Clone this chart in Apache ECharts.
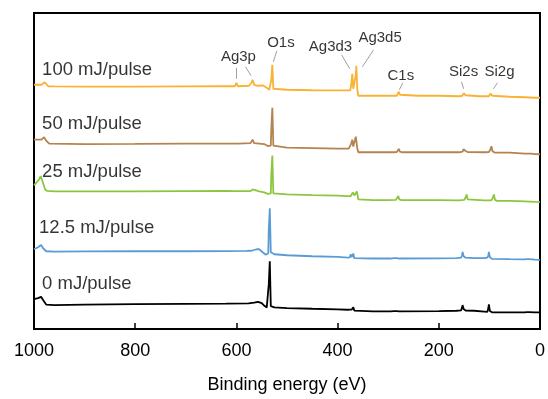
<!DOCTYPE html>
<html>
<head>
<meta charset="utf-8">
<script src="https://cdn.jsdelivr.net/npm/echarts@6/dist/echarts.min.js"></script>
<style>html,body{margin:0;padding:0;background:#fff}#c{width:548px;height:399px}</style>
</head>
<body>
<div id="c"></div>
<script>
// XPS survey spectra: [binding energy (eV), intensity (a.u., stacked offset)]
const s100 = [[1000,245],[985,245],[980,247.5],[976,246],[972,243.5],[960,243.3],[900,243.2],[800,243.2],[700,243.3],[620,243.5],[603,243.5],[600,247],[597,243.5],[575,244],[570,247],[568,250],[565,245],[558,244],[548,244.5],[540,242],[535,240],[532,240.5],[531,250],[529,265],[527,241],[525,240],[500,240],[450,239.5],[400,239.3],[380,239.3],[375,239.5],[373,245],[371,256],[369,241],[366,241],[364,255],[363,264],[361,240],[359,234],[340,234],[300,234],[283,234],[281,236],[279,238],[277,235],[274,234],[240,234],[200,234],[160,233.5],[153,234],[151,236.5],[149,238],[147,234.5],[144,233.5],[120,233.5],[101,233.5],[98,236],[96,238],[94,234],[91,233],[60,233],[30,232.5],[10,232],[0,232]];
const s50 = [[1000,190],[985,190],[980,192.5],[976,189],[970,186],[900,185.5],[800,185.7],[700,186],[620,186],[602,186],[599,188],[596,186],[572,186.5],[568,190],[565,186.5],[555,186],[545,185.5],[538,183.5],[535,183],[532,184],[531,200],[529,222],[527,184],[525,182.3],[500,182],[450,181.5],[400,181],[378,181],[375,181.5],[373,186],[371,190],[369,183],[366,184],[364,193],[363,195],[361,181],[359,177.3],[330,177.3],[290,177.3],[283,177.5],[281,179.5],[279,180.7],[277,178],[273,177.3],[200,177.5],[160,177.3],[153,178],[151,180.5],[149,182.3],[147,178.5],[143,177.5],[110,177.3],[101,177.5],[98,180],[96,183.3],[94,178.5],[90,177],[60,177],[30,176],[22,176],[20,176.7],[18,176],[10,175.5],[0,175.3]];
const s25 = [[1000,144],[990,150],[987,153.3],[983,148],[978,140],[974,138.5],[960,138],[900,138],[800,138],[700,138.3],[620,138.5],[602,138.3],[599,139],[596,138.3],[572,138.3],[568,140],[565,138],[555,138],[545,137],[538,135.5],[535,135],[532,136],[531,155],[529,174],[527,136],[525,135.7],[500,135],[450,134.3],[400,133.7],[380,133.3],[374,133.3],[372,134],[370,137],[369,138.3],[367,134],[364,134],[362,138],[361,140],[359,130],[357,129.3],[330,129.3],[300,129.3],[285,129.5],[282,131.5],[280,133.3],[278,130],[274,129.3],[200,129.3],[160,129],[150,129.5],[147,132],[145,135],[143,130],[140,129],[110,129],[96,129],[93,132],[91,135],[89,129.5],[85,128.5],[60,128.5],[47,128.3],[45,129.5],[43,128.3],[30,128],[10,127.5],[0,127.3]];
const s12 = [[1000,80],[992,82],[986,84.3],[982,81],[976,78],[960,77.7],[900,77.8],[800,78],[700,78],[620,78.2],[580,78.3],[570,78.5],[560,80],[555,80],[548,77],[542,74.5],[539,74],[537,76],[536,100],[534,121],[532,77],[530,75.5],[525,75],[500,74],[450,73],[400,72.3],[380,71.7],[376,71.8],[374,75],[372,72],[370,72],[369,75.7],[367,71],[364,70.7],[330,70.7],[295,70.7],[289,71],[286,72.7],[283,71],[278,70.7],[200,70.8],[165,71],[156,71.5],[154,74],[153,77.3],[151,73],[147,71.5],[130,71],[110,71],[104,71.5],[102,74],[101,77.3],[99,72],[95,70.3],[60,70],[30,69.8],[26,70],[24,71],[22,70],[10,69.5],[0,69.3]];
const s0 = [[1000,30],[992,31],[986,32.3],[982,29],[976,24.5],[960,24],[900,24.5],[800,25],[700,25.3],[620,25.5],[576,25.7],[565,26.5],[557,27.3],[550,26],[544,23],[540,21.7],[537,22.5],[536,45],[534,68],[532,23],[530,22],[525,21.7],[500,21],[450,20.3],[400,19.7],[380,19.3],[376,19.5],[374,21],[372,19.5],[370,19.5],[369,21.7],[367,18.5],[364,17.7],[330,17.7],[295,17.7],[289,18],[286,20],[283,18],[278,17.7],[200,18],[165,18.3],[156,18.7],[154,21.5],[153,24],[151,20],[147,18.5],[130,18.3],[110,17.5],[104,17.2],[102,21],[101,24.7],[99,18],[95,16.7],[60,16.7],[30,16.7],[26,17],[24,17.7],[22,17],[10,16.7],[0,16.7]];

const seriesNames = ['100 mJ/pulse','50 mJ/pulse','25 mJ/pulse','12.5 mJ/pulse','0 mJ/pulse'];
const seriesData = [s100, s50, s25, s12, s0];
const seriesColors = ['#F9B233','#B5834F','#8CC63F','#5B9BD5','#000000'];
const nameAnchors = [[984,260],[984,206],[984,158],[990,101],[984,45]];

const peakNames = ['Ag3p','O1s','Ag3d3','Ag3d5','C1s','Si2s','Si2g'];
const peakLabelAt = [[596,273],[512,287],[414,283],[316,292],[275,254],[151,258],[80,258]];
const leaderLines = [
  [[600,262],[600,251]],
  [[582,263],[571,254]],
  [[520,279],[527,268]],
  [[392,275],[376,261]],
  [[329,280],[351,263]],
  [[271,247],[278,240]],
  [[155,248],[151,241]],
  [[84,247],[92,241]]
];
const xTicks = {min:0, max:1000, interval:200};

const FONT = '"Liberation Sans", Arial, sans-serif';
const chart = echarts.init(document.getElementById('c'), null, {renderer:'canvas'});

const series = seriesData.map((d,i)=>({
  type:'line', data:d, showSymbol:false, symbol:'none', smooth:false,
  lineStyle:{color:seriesColors[i], width:1.8}, z:3, silent:true
}));
series.push({
  type:'scatter', symbolSize:0, silent:true, z:5,
  data: seriesNames.map((n,i)=>({name:n, value:nameAnchors[i]})),
  label:{show:true, position:'right', distance:0, formatter:'{b}', color:'#000', fontSize:18.5, fontFamily:FONT}
});
series.push({
  type:'scatter', symbolSize:0, silent:true, z:5,
  data: peakNames.map((n,i)=>({name:n, value:peakLabelAt[i]})),
  label:{show:true, position:'inside', formatter:'{b}', color:'#000', fontSize:15, fontFamily:FONT}
});
series.push({
  type:'lines', coordinateSystem:'cartesian2d', silent:true, z:4,
  lineStyle:{color:'#a0a0a0', width:1, opacity:1},
  data: leaderLines.map(c=>({coords:c}))
});

chart.setOption({
  animation:false,
  backgroundColor:'#ffffff',
  grid:{left:34, right:4, top:13, bottom:69, show:true, borderColor:'#000', borderWidth:2, backgroundColor:'transparent'},
  xAxis:{
    type:'value', inverse:true, min:xTicks.min, max:xTicks.max, interval:xTicks.interval,
    name:'Binding energy (eV)', nameLocation:'middle', nameGap:47,
    nameTextStyle:{fontSize:18, color:'#000', fontFamily:FONT},
    axisLine:{lineStyle:{color:'#000', width:2}},
    axisTick:{inside:true, length:6, lineStyle:{color:'#000', width:1.5}},
    axisLabel:{fontSize:18, color:'#000', fontFamily:FONT, margin:13, formatter:v=>String(v)},
    splitLine:{show:false}
  },
  yAxis:{type:'value', min:0, max:317, show:false},
  series:series
});
</script>
</body>
</html>
